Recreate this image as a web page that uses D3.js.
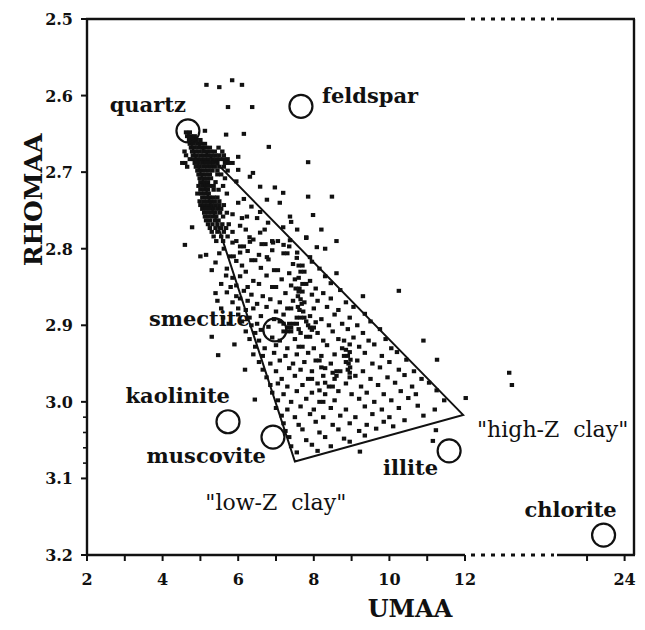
<!DOCTYPE html>
<html><head><meta charset="utf-8">
<script src="https://cdn.jsdelivr.net/npm/d3@7/dist/d3.min.js"></script>
<style>html,body{margin:0;padding:0;background:#fff}</style>
</head><body>
<svg id="chart" width="645" height="630"></svg>
<script>
// ---------- data ----------
const xTickValues = [2,3,4,5,6,7,8,9,10,11,12,23,24];
const xTickLabels = [2,4,6,8,10,12,24];
const yTickValues = [2.5,2.6,2.7,2.8,2.9,3.0,3.1,3.2];
const yTickLabels = ["2.5","2.6","2.7","2.8","2.9","3.0","3.1","3.2"];
const yMinorTicks = [3.02,3.04,3.06,3.08];

const mineralNames  = ["quartz","feldspar","smectite","kaolinite","muscovite","illite","chlorite"];
const mineralUMAA   = [4.67, 7.66, 6.97, 5.73, 6.92, 11.58, 23.44];
const mineralRHOMAA = [2.646, 2.614, 2.906, 3.026, 3.046, 3.064, 3.174];

const clayPolyUMAA   = [4.67, 7.50, 11.95];
const clayPolyRHOMAA = [2.650, 3.078, 3.017];

const zoneLabels = ['"low-Z  clay"', '"high-Z  clay"'];
const zoneUMAA   = [5.13, 13.33];
const zoneRHOMAA = [3.141, 3.046];

// dense cluster near quartz: rows of [RHOMAA, [UMAA...]]
const clusterRows = [
 [2.648,[4.62,4.72]],
 [2.653,[4.65,4.75,4.85]],
 [2.658,[4.70,4.80,4.90,5.00]],
 [2.663,[4.72,4.82,4.92,5.02,5.12]],
 [2.668,[4.75,4.85,4.95,5.05,5.15,5.25,5.48]],
 [2.673,[4.58,4.78,4.88,4.98,5.08,5.18,5.28,5.38,5.58]],
 [2.678,[4.62,4.80,4.90,5.00,5.10,5.20,5.30,5.40,5.50,5.62]],
 [2.683,[4.72,4.82,4.92,5.02,5.12,5.22,5.32,5.42,5.52,5.62,5.72]],
 [2.688,[4.52,4.60,4.85,4.95,5.05,5.15,5.25,5.35,5.45,5.65,5.75,5.85]],
 [2.693,[4.65,4.88,4.98,5.08,5.18,5.28,5.38,5.50,5.62]],
 [2.698,[4.92,5.02,5.12,5.22,5.32,5.45,5.72]],
 [2.703,[4.95,5.05,5.15,5.25,5.45,5.55]],
 [2.708,[4.98,5.08,5.18,5.28,5.65]],
 [2.713,[5.00,5.10,5.20,5.40]],
 [2.718,[4.95,5.05,5.15,5.25,5.35,5.60]],
 [2.723,[5.00,5.10,5.20,5.35,5.48]],
 [2.728,[4.92,5.02,5.12,5.22,5.70]],
 [2.733,[5.05,5.15,5.25,5.35,5.45]],
 [2.738,[4.98,5.08,5.18,5.28,5.38,5.50]],
 [2.743,[5.00,5.10,5.20,5.30,5.40,5.50,5.62]],
 [2.748,[5.05,5.15,5.25,5.35,5.45,5.55]],
 [2.753,[5.10,5.20,5.30,5.40,5.52,5.70]],
 [2.758,[5.12,5.22,5.32,5.42,5.60]],
 [2.763,[5.15,5.25,5.38,5.48]],
 [2.768,[5.20,5.32,5.45,5.58,5.75]],
 [2.773,[5.25,5.40,5.55,5.68]],
 [2.778,[5.30,5.45,5.62,5.85]],
 [2.784,[5.35,5.55,5.72]],
 [2.790,[5.42,5.60,5.95]]
];

// scattered samples [UMAA, RHOMAA]
const samples = [
 // above / right of the quartz cluster
 [5.84,2.580],[5.16,2.586],[6.10,2.586],[5.50,2.589],[5.73,2.615],[6.37,2.615],
 [5.12,2.646],[5.68,2.651],[6.15,2.650],[6.81,2.667],[6.00,2.680],[7.85,2.687],
 [6.39,2.701],[5.95,2.712],[6.97,2.720],[7.19,2.727],[7.85,2.732],[8.48,2.732],
 [6.15,2.735],[6.35,2.745],[6.00,2.740],[5.85,2.755],[7.98,2.756],[6.50,2.760],
 [6.10,2.760],[7.40,2.765],[6.05,2.770],[6.70,2.775],[6.20,2.775],[8.20,2.775],
 [4.78,2.772],[6.30,2.785],[7.80,2.785],[6.90,2.790],[8.60,2.790],[4.59,2.795],
 [7.20,2.795],[5.00,2.810],
 [6.23,2.758],[6.58,2.752],[6.79,2.766],[7.19,2.772],[7.56,2.775],[7.37,2.789],
 [6.92,2.792],[6.58,2.779],[6.31,2.791],[6.05,2.805],[6.76,2.811],[7.56,2.805],
 [7.90,2.811],[8.08,2.798],[6.58,2.719],[6.31,2.706],[6.00,2.697],[7.10,2.740],
 [6.76,2.736],[7.37,2.758],
 // main body
 [5.85,2.792],[6.05,2.797],[6.15,2.797],[6.40,2.788],[6.62,2.794],[6.72,2.794],[7.05,2.790],[7.35,2.797],[7.80,2.786],[5.62,2.800],
 [5.50,2.806],[5.78,2.810],[5.88,2.810],[6.25,2.803],[6.55,2.808],[6.90,2.802],[7.20,2.806],[7.30,2.806],[7.55,2.812],[8.30,2.800],[5.15,2.808],
 [5.40,2.818],[5.95,2.816],[6.35,2.815],[6.45,2.815],[6.80,2.814],[7.45,2.820],[7.60,2.822],[7.70,2.822],[7.95,2.817],[6.10,2.822],
 [5.70,2.826],[6.20,2.830],[6.60,2.825],[6.95,2.828],[7.05,2.828],[7.35,2.832],[7.65,2.830],[7.75,2.830],[8.15,2.826],[5.30,2.828],
 [5.85,2.838],[6.05,2.836],[6.40,2.842],[6.75,2.835],[7.15,2.840],[7.50,2.840],[7.60,2.838],[7.90,2.842],[8.30,2.836],[8.60,2.832],[5.68,2.835],
 [5.55,2.846],[5.95,2.848],[6.25,2.850],[6.55,2.846],[6.90,2.850],[7.00,2.850],[7.40,2.848],[7.70,2.846],[7.80,2.846],[8.05,2.852],[8.45,2.845],[6.15,2.855],[5.80,2.850],
 [5.40,2.858],[5.70,2.857],[6.35,2.860],[6.65,2.862],[7.25,2.858],[7.60,2.856],[7.70,2.856],[7.95,2.860],[8.25,2.858],[8.70,2.854],[6.05,2.865],[10.25,2.855],[7.52,2.852],[7.62,2.852],[5.95,2.862],
 [5.85,2.870],[6.25,2.868],[6.50,2.872],[6.85,2.866],[7.10,2.870],[7.45,2.868],[7.65,2.866],[7.75,2.870],[8.10,2.868],[8.45,2.865],[8.85,2.870],[9.30,2.862],[7.58,2.862],[7.68,2.872],[5.45,2.868],
 [5.55,2.878],[6.20,2.880],[6.40,2.878],[6.75,2.876],[7.00,2.882],[7.30,2.878],[7.40,2.878],[7.62,2.880],[7.72,2.882],[8.00,2.878],[8.35,2.876],[8.65,2.880],[9.05,2.876],[7.58,2.876],[6.00,2.878],
 [6.00,2.886],[6.30,2.890],[6.60,2.888],[6.95,2.892],[7.20,2.886],[7.55,2.890],[7.65,2.890],[7.75,2.890],[7.90,2.888],[8.20,2.892],[8.55,2.886],[8.95,2.890],[9.35,2.885],[5.60,2.890],
 [5.75,2.898],[6.35,2.900],[6.50,2.898],[6.80,2.902],[7.35,2.898],[7.45,2.898],[7.55,2.898],[7.85,2.900],[8.05,2.896],[8.40,2.900],[8.75,2.898],[9.15,2.900],[9.50,2.895],[6.10,2.895],[7.80,2.895],[7.10,2.895],[7.20,2.898],
 [6.20,2.908],[6.45,2.910],[6.60,2.906],[7.20,2.908],[7.30,2.908],[7.40,2.908],[7.65,2.910],[7.95,2.906],[8.10,2.910],[8.50,2.908],[8.90,2.905],[9.30,2.910],[9.75,2.905],[7.30,2.903],[7.40,2.903],[7.90,2.903],[8.00,2.903],[7.60,2.905],
 [6.30,2.918],[6.55,2.920],[6.90,2.916],[7.10,2.920],[7.50,2.918],[7.80,2.915],[7.90,2.915],[8.25,2.920],[8.65,2.918],[8.80,2.920],[9.05,2.916],[9.45,2.920],[9.90,2.918],[5.30,2.915],[10.90,2.920],
 [6.45,2.928],[6.70,2.930],[7.00,2.926],[7.30,2.930],[7.60,2.928],[7.70,2.928],[8.00,2.930],[8.35,2.926],[8.75,2.930],[8.85,2.932],[9.20,2.928],[9.60,2.925],[10.05,2.930],[5.90,2.925],[8.95,2.925],
 [6.40,2.938],[6.65,2.940],[6.95,2.936],[7.25,2.940],[7.55,2.938],[7.85,2.936],[8.20,2.940],[8.55,2.938],[8.80,2.940],[8.90,2.940],[9.35,2.936],[9.80,2.940],[10.20,2.935],[5.47,2.939],[8.95,2.935],
 [6.55,2.948],[6.85,2.950],[7.10,2.946],[7.45,2.950],[7.75,2.948],[8.05,2.946],[8.15,2.946],[8.45,2.950],[8.85,2.948],[8.92,2.950],[9.15,2.946],[9.55,2.950],[10.00,2.948],[10.45,2.945],[11.26,2.945],[8.97,2.945],
 [6.65,2.958],[7.00,2.960],[7.35,2.956],[7.65,2.958],[7.95,2.960],[8.30,2.956],[8.60,2.960],[8.70,2.960],[8.90,2.958],[9.30,2.960],[9.75,2.955],[10.25,2.958],[10.65,2.960],[6.18,2.958],[8.96,2.955],[8.20,2.955],
 [6.75,2.968],[7.15,2.970],[7.50,2.966],[7.85,2.970],[7.95,2.970],[8.25,2.966],[8.55,2.970],[8.95,2.968],[9.10,2.966],[9.50,2.970],[9.95,2.968],[10.40,2.965],[10.85,2.970],[16.9,2.962],[8.50,2.962],[8.60,2.966],[8.95,2.962],
 [6.85,2.978],[7.05,2.976],[7.30,2.980],[7.70,2.978],[8.10,2.976],[8.40,2.980],[8.50,2.980],[8.85,2.976],[9.25,2.980],[9.70,2.978],[10.15,2.975],[10.60,2.980],[11.05,2.975],[17.2,2.978],[8.30,2.975],
 [6.90,2.988],[7.20,2.990],[7.55,2.986],[7.95,2.988],[8.30,2.990],[8.65,2.986],[9.00,2.990],[9.40,2.988],[9.85,2.990],[10.30,2.986],[10.70,2.990],[11.25,2.985],[6.44,2.997],[8.15,2.985],
 [7.05,2.998],[7.40,3.000],[7.80,2.996],[8.15,3.000],[8.25,3.000],[8.55,2.998],[9.20,2.996],[9.60,3.000],[10.05,2.998],[10.50,2.995],[11.45,2.998],[12.08,2.995],
 [7.00,3.008],[7.30,3.010],[7.65,3.006],[8.00,3.010],[8.45,3.008],[8.85,3.010],[9.35,3.006],[9.80,3.010],[10.25,3.008],[10.75,3.005],[11.20,3.010],
 [7.15,3.018],[7.50,3.020],[7.90,3.016],[8.25,3.020],[8.70,3.018],[9.10,3.020],[9.55,3.016],[10.00,3.020],[10.90,3.018],
 [7.20,3.028],[7.60,3.030],[8.05,3.026],[8.50,3.030],[8.95,3.028],[9.40,3.030],[9.85,3.026],[10.40,3.024],
 [7.25,3.038],[7.70,3.036],[8.15,3.040],[8.65,3.036],[9.20,3.038],[9.65,3.035],[10.10,3.032],[11.23,3.037],
 [7.35,3.046],[7.80,3.050],[8.30,3.046],[8.80,3.048],[9.35,3.044],[11.15,3.051],
 [7.40,3.058],[7.95,3.056],[8.45,3.058],[8.95,3.052],
 [7.55,3.066],[8.10,3.064],[9.22,3.065]
];

// ---------- layout ----------
const W = 645, H = 630;
const svg = d3.select("#chart");
svg.append("rect").attr("width",W).attr("height",H).attr("fill","#fff");
const ink = "#111";

const x = d3.scaleLinear().domain([2,12,22.2,24.25]).range([87,465,557,634]);
const y = d3.scaleLinear().domain([2.5,3.2]).range([19,555]);

const serif = "'DejaVu Serif', serif";

const xL = x(2), xR = x(24.25), yT = y(2.5), yB = y(3.2);
const breakA = x(12), breakB = x(22.2);
const frame = svg.append("g").attr("stroke",ink).attr("fill","none");
frame.append("line").attr("x1",xL).attr("x2",xL).attr("y1",yT).attr("y2",yB).attr("stroke-width",2.4);
frame.append("line").attr("x1",xR).attr("x2",xR).attr("y1",yT).attr("y2",yB).attr("stroke-width",2.4);
[yT,yB].forEach(yy=>{
  frame.append("line").attr("x1",xL-1).attr("x2",breakA).attr("y1",yy).attr("y2",yy).attr("stroke-width",2.4);
  frame.append("line").attr("x1",breakB).attr("x2",xR+1).attr("y1",yy).attr("y2",yy).attr("stroke-width",2.4);
  frame.append("line").attr("x1",breakA+6).attr("x2",breakB-3).attr("y1",yy).attr("y2",yy)
    .attr("stroke-width",3).attr("stroke-dasharray","4,6");
});

// x axis
const gx = svg.append("g");
gx.selectAll("line").data(xTickValues).join("line")
  .attr("x1",d=>x(d)).attr("x2",d=>x(d)).attr("y1",yB).attr("y2",yB+6)
  .attr("stroke",ink).attr("stroke-width",2);
gx.selectAll("text").data(xTickLabels).join("text")
  .attr("x",d=>x(d)).attr("y",yB+30).attr("text-anchor","middle")
  .attr("font-family",serif).attr("font-weight","bold").attr("font-size",16)
  .attr("fill",ink).text(d=>d);

// y axis
const gy = svg.append("g");
gy.selectAll("line.maj").data(yTickValues).join("line").attr("class","maj")
  .attr("x1",xL-6).attr("x2",xL).attr("y1",d=>y(d)).attr("y2",d=>y(d))
  .attr("stroke",ink).attr("stroke-width",2);
gy.selectAll("line.min").data(yMinorTicks).join("line").attr("class","min")
  .attr("x1",xL-4).attr("x2",xL).attr("y1",d=>y(d)).attr("y2",d=>y(d))
  .attr("stroke",ink).attr("stroke-width",1.6);
gy.selectAll("text").data(yTickValues).join("text")
  .attr("x",xL-14).attr("y",d=>y(d)+6).attr("text-anchor","end")
  .attr("font-family",serif).attr("font-weight","bold").attr("font-size",16)
  .attr("fill",ink).text((d,i)=>yTickLabels[i]);

// axis titles
svg.append("text").attr("x",410).attr("y",617).attr("text-anchor","middle")
  .attr("font-family",serif).attr("font-weight","bold").attr("font-size",24)
  .attr("fill",ink).text("UMAA");
svg.append("text").attr("transform","translate(42,200) rotate(-90)").attr("text-anchor","middle")
  .attr("font-family",serif).attr("font-weight","bold").attr("font-size",25)
  .attr("fill",ink).text("RHOMAA");

// sample points
const clusterPts = clusterRows.flatMap(([r,us]) => us.map(u => [u,r]));
svg.append("g").selectAll("rect").data(clusterPts.concat(samples)).join("rect")
  .attr("x",d=>x(d[0])-2.2).attr("y",d=>y(d[1])-2)
  .attr("width",4.4).attr("height",4).attr("fill",ink);

// clay polygon
const poly = clayPolyUMAA.map((u,i)=>[x(u), y(clayPolyRHOMAA[i])]);
svg.append("path").attr("d", d3.line()(poly)+"Z")
  .attr("fill","none").attr("stroke",ink).attr("stroke-width",2);

// mineral circles + labels (offsets in px)
const labelDx = [-2, 21, -25, 2, -7, -66, -79];
const labelDy = [-19, -3, -4, -19, 26, 24, -18];
const labelAnchor = ["end","start","end","end","end","start","start"];
const mg = svg.append("g");
mineralNames.forEach((n,i)=>{
  const cx = x(mineralUMAA[i]), cy = y(mineralRHOMAA[i]);
  mg.append("circle").attr("cx",cx).attr("cy",cy).attr("r",11.5)
    .attr("fill","none").attr("stroke",ink).attr("stroke-width",2.2);
  mg.append("text").attr("x",cx+labelDx[i]).attr("y",cy+labelDy[i])
    .attr("text-anchor",labelAnchor[i])
    .attr("font-family",serif).attr("font-weight","bold").attr("font-size",21)
    .attr("fill",ink).text(n);
});

// zone labels
zoneLabels.forEach((t,i)=>{
  svg.append("text").attr("x",x(zoneUMAA[i])).attr("y",y(zoneRHOMAA[i]))
    .attr("font-family",serif).attr("font-size",22).attr("fill",ink)
    .style("white-space","pre").text(t);
});
</script>
</body></html>
